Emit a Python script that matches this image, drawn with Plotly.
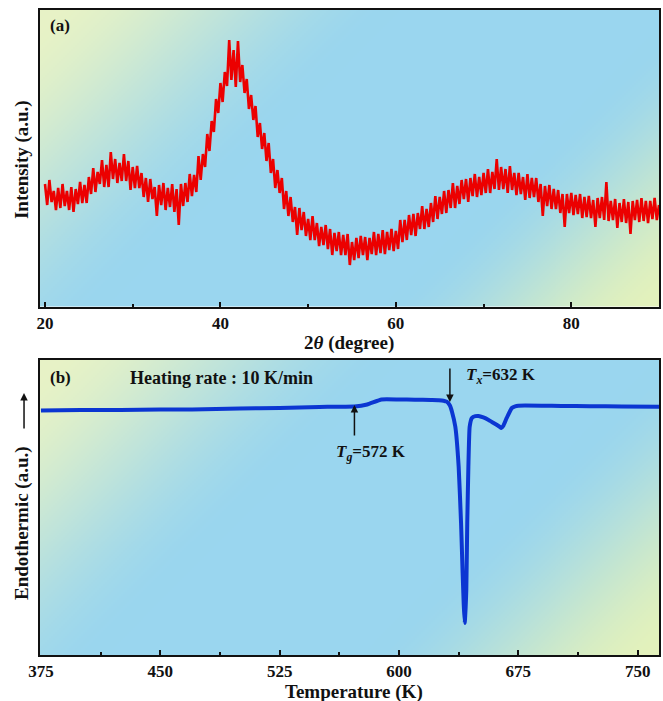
import base64
import struct
import zlib
import plotly.graph_objects as go

# ---------------- data ----------------
# (a) XRD pattern, intensity in arbitrary units, sampled every 0.25 degree from 20 to 90
xrd_start = 20.0
xrd_step = 0.25
xrd_intensity = [
    122, 101, 126, 104, 115, 96, 118, 98, 122, 100, 115, 96, 119, 94, 117, 102, 124, 103, 121, 103,
    129, 112, 138, 114, 134, 122, 146, 119, 141, 119, 154, 127, 147, 123, 143, 125, 152, 125, 145, 116,
    139, 118, 140, 118, 133, 109, 128, 104, 127, 107, 119, 90, 121, 101, 123, 96, 118, 99, 122, 94,
    117, 81, 122, 100, 123, 104, 132, 110, 131, 114, 150, 126, 152, 139, 172, 155, 185, 174, 207, 193,
    223, 204, 234, 220, 266, 226, 256, 219, 265, 224, 241, 213, 227, 197, 211, 186, 200, 169, 183, 157,
    173, 145, 163, 133, 147, 118, 136, 113, 128, 97, 115, 90, 109, 84, 99, 71, 98, 76, 94, 70,
    87, 66, 90, 66, 83, 60, 79, 61, 81, 57, 77, 51, 73, 55, 74, 51, 71, 51, 72, 41,
    64, 46, 68, 48, 70, 51, 69, 46, 68, 52, 74, 51, 72, 53, 76, 52, 74, 56, 77, 55,
    75, 57, 86, 64, 86, 66, 91, 71, 92, 70, 93, 77, 100, 77, 97, 79, 103, 84, 110, 87,
    109, 92, 115, 93, 116, 98, 123, 98, 120, 102, 126, 107, 127, 104, 128, 110, 132, 109, 129, 111,
    133, 113, 137, 113, 134, 117, 147, 116, 139, 117, 137, 113, 140, 116, 133, 111, 133, 112, 129, 106,
    132, 108, 128, 109, 128, 104, 122, 90, 120, 100, 121, 97, 117, 97, 116, 93, 112, 79, 112, 93,
    113, 91, 111, 92, 112, 88, 109, 89, 110, 88, 106, 79, 108, 88, 109, 86, 124, 85, 105, 86,
    107, 78, 103, 84, 107, 83, 104, 72, 105, 86, 106, 84, 108, 85, 105, 83, 105, 87, 108, 86,
    101,
]
two_theta = [xrd_start + xrd_step * i for i in range(len(xrd_intensity))]

# (b) DSC curve
temperature = [375, 400, 425, 450, 470, 500, 525, 550, 560, 572, 580, 589, 600, 610, 620, 625, 628,
               630, 632, 633.3, 635.4, 637.5, 639, 640, 640.7, 641.3, 641.9, 642.3, 642.9, 643.6,
               644.4, 645.8, 648, 650, 653, 656.3, 660, 663, 664.3, 665.5, 667.7, 670.9, 673, 675,
               690, 702, 720, 740, 765]
heat_flow = [244.5, 245, 245, 245.5, 245.5, 246.5, 247, 248, 248.3, 248.5, 250.5, 255.5, 255.5, 255.3,
             255, 254.8, 254.3, 253.3, 249.5, 243.3, 228.3, 188.3, 132, 82, 50, 32, 48, 65, 132, 188,
             228, 237, 238.8, 239, 237.5, 235, 231.5, 228.5, 227, 229, 237, 247, 248.7, 249.3,
             249.3, 249, 248.8, 248.5, 248.3]

xrd_ticks = [20, 40, 60, 80]
dsc_ticks = [375, 450, 525, 600, 675, 750]
Tg = 572
Tx = 632

# ---------------- gradient background image ----------------
def gradient_png(w, h, tl_len, br_len):
    blue = (154, 214, 239)
    ytl = (232, 243, 198)
    ybr = (228, 242, 188)
    total = w + h
    rows = []
    for j in range(h):
        row = bytearray()
        for i in range(w):
            t = i + j
            a = max(0.0, 1 - t / tl_len)
            b = max(0.0, 1 - (total - t) / br_len)
            a = a * a * (3 - 2 * a)
            b = b * b * (3 - 2 * b)
            if a >= b:
                c = [blue[k] * (1 - a) + ytl[k] * a for k in range(3)]
            else:
                c = [blue[k] * (1 - b) + ybr[k] * b for k in range(3)]
            row.extend(int(v) for v in c)
        rows.append(b"\x00" + bytes(row))
    raw = b"".join(rows)

    def chunk(tag, data):
        return (struct.pack(">I", len(data)) + tag + data +
                struct.pack(">I", zlib.crc32(tag + data) & 0xFFFFFFFF))

    png = (b"\x89PNG\r\n\x1a\n" +
           chunk(b"IHDR", struct.pack(">IIBBBBB", w, h, 8, 2, 0, 0, 0)) +
           chunk(b"IDAT", zlib.compress(raw, 9)) + chunk(b"IEND", b""))
    return "data:image/png;base64," + base64.b64encode(png).decode()

bg_a = gradient_png(311, 148, 180, 140)
bg_b = gradient_png(311, 148, 180, 150)

# ---------------- figure ----------------
FONT = "Liberation Serif"
fig = go.Figure()

fig.add_trace(go.Scatter(x=two_theta, y=xrd_intensity, mode="lines",
                         line=dict(color="#ec0000", width=2.6), xaxis="x", yaxis="y",
                         showlegend=False))
fig.add_trace(go.Scatter(x=temperature, y=heat_flow, mode="lines",
                         line=dict(color="#0b36d2", width=4, shape="spline", smoothing=0.4),
                         xaxis="x2", yaxis="y2", showlegend=False))

axis_common = dict(showline=True, linecolor="#111111", linewidth=2, mirror=True,
                   showgrid=False, zeroline=False)
tickfont = dict(family=FONT, size=17, color="#111111")

fig.update_layout(
    width=663, height=701,
    margin=dict(l=40, r=2, t=10, b=46),
    paper_bgcolor="white",
    plot_bgcolor="rgba(0,0,0,0)",
    xaxis=dict(domain=[0, 1], anchor="y", range=[19.43, 90.0], tickvals=xrd_ticks,
               ticktext=[f"<b>{v}</b>" for v in xrd_ticks],
               ticks="inside", ticklen=5, tickwidth=2, tickcolor="#111111",
               minor=dict(dtick=10, tick0=0, ticks="inside", ticklen=3, tickwidth=1.5,
                          tickcolor="#111111"),
               tickfont=tickfont, ticklabelstandoff=0,
               **axis_common),
    yaxis=dict(domain=[0.5403, 1], anchor="x", range=[-0.5, 296], showticklabels=False,
               ticks="", **axis_common),
    xaxis2=dict(domain=[0, 1], anchor="y2", range=[374.4, 763.4], tickvals=dsc_ticks,
                ticktext=[f"<b>{v}</b>" for v in dsc_ticks],
                ticks="inside", ticklen=5, tickwidth=2, tickcolor="#111111",
                minor=dict(dtick=37.5, tick0=375, ticks="inside", ticklen=3, tickwidth=1.5,
                           tickcolor="#111111"),
                tickfont=tickfont, ticklabelstandoff=0,
                **axis_common),
    yaxis2=dict(domain=[0, 0.4574], anchor="x2", range=[0, 295], showticklabels=False,
                ticks="", **axis_common),
    images=[
        dict(source=bg_a, xref="x domain", yref="y domain", x=0, y=1, sizex=1, sizey=1,
             sizing="stretch", xanchor="left", yanchor="top", layer="below"),
        dict(source=bg_b, xref="x2 domain", yref="y2 domain", x=0, y=1, sizex=1, sizey=1,
             sizing="stretch", xanchor="left", yanchor="top", layer="below"),
    ],
)

def txt(text, x, y, xref, yref, size, xanchor="center", angle=0):
    fig.add_annotation(text=f"<b>{text}</b>", x=x, y=y, xref=xref, yref=yref, showarrow=False,
                       xanchor=xanchor, yanchor="middle", textangle=angle,
                       font=dict(family=FONT, size=size, color="#111111"))

# panel labels and texts
txt("(a)", 0.0129, 0.949, "x domain", "y domain", 17, "left")
txt("(b)", 0.0129, 0.939, "x2 domain", "y2 domain", 17, "left")
txt("Heating rate : 10 K/min", 0.1417, 0.939, "x2 domain", "y2 domain", 18, "left")
txt("<i>T</i><sub><i>x</i></sub>=632 K", 640.6, 279, "x2", "y2", 17, "left")
txt("<i>T</i><sub><i>g</i></sub>=572 K", 559.2, 202, "x2", "y2", 17, "left")

# axis titles
txt("2<i>θ</i> (degree)", 0.4992, 0.4837, "paper", "paper", 19)
txt("Temperature (K)", 0.507, -0.058, "paper", "paper", 19)
txt("Intensity (a.u.)", -0.029, 0.7674, "paper", "paper", 19, angle=-90)
txt("Endothermic (a.u.)", -0.029, 0.2047, "paper", "paper", 19, angle=-90)

# arrows
fig.add_annotation(x=Tx, y=253, xref="x2", yref="y2", ax=0, ay=-35, text="",
                   showarrow=True, arrowhead=2, arrowsize=1, arrowwidth=1.5,
                   arrowcolor="#111111")
fig.add_annotation(x=Tg, y=250, xref="x2", yref="y2", ax=0, ay=32, text="",
                   showarrow=True, arrowhead=2, arrowsize=1, arrowwidth=1.5,
                   arrowcolor="#111111")
fig.add_annotation(x=-0.0258, y=0.4062, xref="paper", yref="paper", ax=0, ay=37, text="",
                   showarrow=True, arrowhead=2, arrowsize=1, arrowwidth=1.5,
                   arrowcolor="#111111")

fig.write_html("out.html")
